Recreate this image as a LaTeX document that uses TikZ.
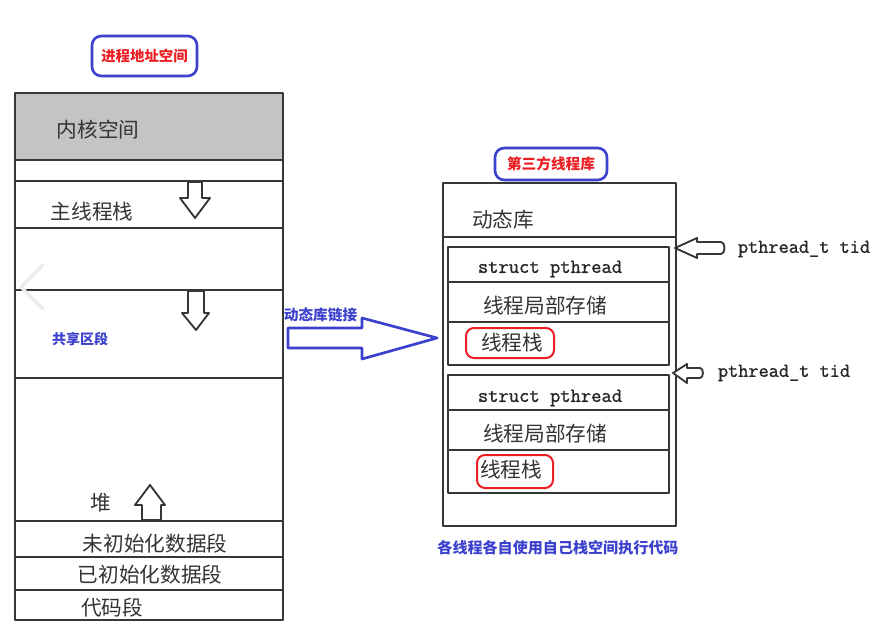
\documentclass[tikz,border=0pt]{standalone}
\usepackage{fontspec}
\setmainfont{Noto Sans CJK SC}
\newfontfamily\codefont{Latin Modern Mono}[FakeBold=1.2]
\definecolor{titlered}{RGB}{235,30,35}
\definecolor{linkblue}{RGB}{60,65,205}
\definecolor{kernelgray}{RGB}{196,196,196}
\definecolor{sketch}{RGB}{55,55,55}
\begin{document}
\begin{tikzpicture}[x=0.75pt, y=-0.75pt, line join=round,
	seg/.style={font=\fontsize{15.5}{18}\selectfont, inner sep=0pt, text=black!80},
	code/.style={font=\codefont\fontsize{15}{18}\selectfont, inner sep=0pt, text=black!85},
	title/.style={draw=linkblue, line width=2pt, rounded corners=7pt, text=titlered, font=\bfseries\fontsize{10.8}{13}\selectfont, inner sep=0pt},
	note/.style={text=linkblue, font=\bfseries\fontsize{11}{13}\selectfont, inner sep=0pt},
	wall/.style={draw=sketch, line width=1.5pt},
	hollow/.style={draw=sketch, line width=1.4pt, fill=white},
	redring/.style={draw=titlered, line width=1.5pt, rounded corners=6pt}]
				\useasboundingbox (0,0) rectangle (880,623);
				
				% 1. 进程地址空间 (左侧)
				\node[title, minimum width=78.75pt, minimum height=30pt] (addrtitle) at (144.5,56) {进程地址空间};
				\fill[kernelgray] (15,93) rectangle (283,160);
				\draw[wall] (15,93) rectangle (283,620);
				\draw[wall] (15,160) -- (283,160);
				\draw[wall] (15,181) -- (283,181);
				\draw[wall] (15,228) -- (283,228);
				\draw[wall] (15,290) -- (283,290);
				\draw[wall] (15,378) -- (283,378);
				\draw[wall] (15,521) -- (283,521);
				\draw[wall] (15,557) -- (283,557);
				\draw[wall] (15,590) -- (283,590);
				
				% 分段标签
				\node[seg] (kernel) at (98,130) {内核空间};
				\node[seg] (mainstack) at (92,212) {主线程栈};
				\node[note, font=\bfseries\fontsize{10.5}{12}\selectfont] (shared) at (80,339) {共享区段};
				\node[seg] (heap) at (101,503) {堆};
				\node[seg] (bss) at (155,544) {未初始化数据段};
				\node[seg] (data) at (150,575) {已初始化数据段};
				\node[seg] (text) at (112,608) {代码段};
				
				% 2. 增长方向 (空心箭头)
				\draw[hollow] (188,182) -- (202,182) -- (202,198) -- (210,198) -- (195,218) -- (180,198) -- (188,198) -- cycle;
				\draw[hollow] (188,291) -- (204,291) -- (204,313) -- (209,313) -- (196,330) -- (182,313) -- (188,313) -- cycle;
				\draw[hollow] (142,520) -- (161,520) -- (161,505) -- (165,505) -- (150,485) -- (135,505) -- (142,505) -- cycle;
				
				% 图片浏览器残留的浅色箭头
				\draw[gray!15, line width=2.5pt, line cap=round] (43,265) -- (21,287) -- (43,309);
				
				% 3. 动态库链接
				\node[note] (linklabel) at (320.5,315) {动态库链接};
				\draw[linkblue, line width=2pt] (288,328) -- (362,328) -- (362,318) -- (437,338) -- (362,359) -- (362,348) -- (288,348) -- cycle;
				
				% 4. 第三方线程库 (右侧)
				\node[title, minimum width=84pt, minimum height=24pt, font=\bfseries\fontsize{11}{13}\selectfont] (libtitle) at (551,164) {第三方线程库};
				\draw[wall] (443,183) rectangle (676,526);
				\draw[wall] (443,237) -- (676,237);
				\node[seg] (dynlib) at (503,220) {动态库};
				
				% 线程 1
				\draw[wall] (448,247) rectangle (669,365);
				\draw[wall] (448,282) -- (669,282);
				\draw[wall] (448,322) -- (669,322);
				\node[code] (structA) at (550,269) {struct pthread};
				\node[seg] (tlsA) at (545,306) {线程局部存储};
				\node[seg] (stackA) at (512,343) {线程栈};
				\draw[redring] (466,328) rectangle (554,358);
				
				% 线程 2
				\draw[wall] (448,375) rectangle (669,493);
				\draw[wall] (448,410) -- (669,410);
				\draw[wall] (448,450) -- (669,450);
				\node[code] (structB) at (550,398) {struct pthread};
				\node[seg] (tlsB) at (545,434) {线程局部存储};
				\node[seg] (stackB) at (511,470) {线程栈};
				\draw[redring] (477,455) rectangle (553,488);
				
				% 5. pthread_t 指向
				\node[code, font=\codefont\fontsize{14.8}{17}\selectfont] (tidA) at (804,249) {pthread\_t tid};
				\node[code, font=\codefont\fontsize{14.8}{17}\selectfont] (tidB) at (784,373) {pthread\_t tid};
				\draw[hollow] (675,248) -- (697,238) -- (697,242) -- (721,242) to[out=0, in=0] (721,254) -- (697,254) -- (697,258) -- cycle;
				\draw[hollow] (673,373) -- (687,364) -- (687,368) -- (700,368) to[out=0, in=0] (700,378) -- (687,378) -- (687,383) -- cycle;
				
				% 6. 说明
				\node[note, font=\bfseries\fontsize{11.3}{13}\selectfont] (usage) at (558,548) {各线程各自使用自己栈空间执行代码};
			\end{tikzpicture}
\end{document}
